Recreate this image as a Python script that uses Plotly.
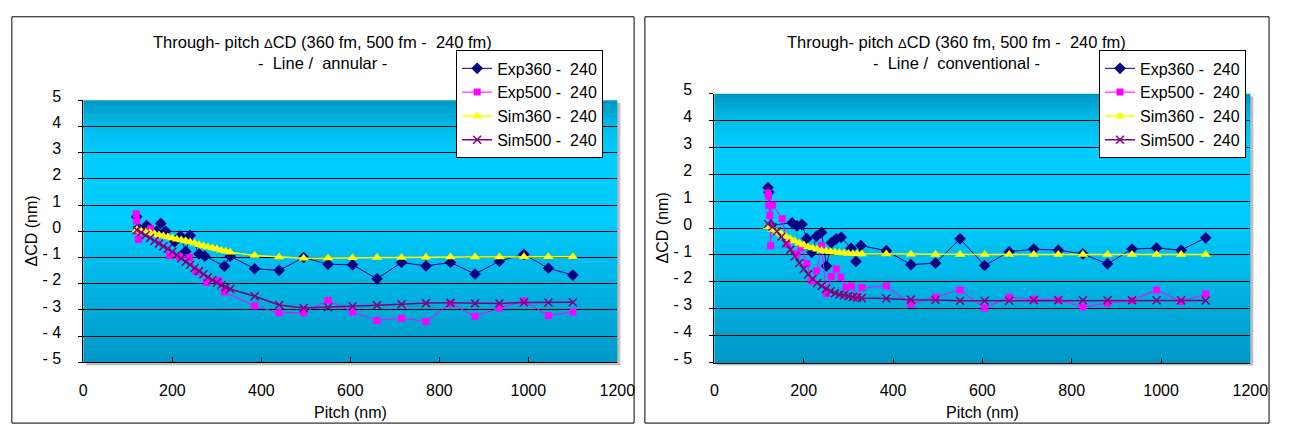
import plotly.graph_objects as go

W, H = 1290, 430

# ---------------- data ----------------
sim_pitch = [120, 130, 140, 150, 160, 170, 180, 190, 200, 210, 220, 230, 240, 250, 260, 270, 280, 290, 300, 310, 320, 330,
             385, 440, 495, 550, 605, 660, 715, 770, 825, 880, 935, 990, 1045, 1100]
exp_large_pitch = [385, 440, 495, 550, 605, 660, 715, 770, 825, 880, 935, 990, 1045, 1100]

# Line / annular
ann_exp360_pitch = [120, 124, 142, 164, 174, 185, 205, 218, 230, 240, 260, 273, 317, 330] + exp_large_pitch
ann_exp360 = [0.55, 0.12, 0.22, 0.0, 0.3, 0.0, -0.4, -0.18, -0.77, -0.16, -0.86, -0.95, -1.33, -0.95,
              -1.43, -1.49, -1.0, -1.26, -1.28, -1.81, -1.19, -1.32, -1.19, -1.63, -1.14, -0.88, -1.41, -1.67]
ann_exp500_pitch = [119, 120, 122, 124, 151, 194, 216, 238, 253, 277, 304, 317] + exp_large_pitch
ann_exp500 = [0.67, 0.4, 0.0, -0.31, 0.1, -0.92, -0.97, -1.0, -1.53, -1.95, -1.89, -2.32,
              -2.85, -3.11, -3.11, -2.63, -3.08, -3.4, -3.32, -3.44, -2.75, -3.24, -2.93, -2.66, -3.21, -3.08]
ann_sim360 = [0.05, 0.0, -0.03, -0.06, -0.1, -0.14, -0.18, -0.22, -0.26, -0.3, -0.33, -0.37, -0.41, -0.46, -0.51,
              -0.56, -0.6, -0.64, -0.68, -0.72, -0.76, -0.8,
              -0.92, -0.98, -1.03, -1.02, -1.01, -1.0, -1.0, -0.99, -0.98, -0.98, -0.98, -0.97, -0.97, -0.97]
ann_sim500 = [0.05, -0.05, -0.15, -0.26, -0.37, -0.47, -0.57, -0.67, -0.78, -0.9, -1.03, -1.16, -1.28, -1.4, -1.52,
              -1.64, -1.75, -1.86, -1.96, -2.05, -2.13, -2.2,
              -2.48, -2.81, -2.93, -2.9, -2.86, -2.82, -2.78, -2.74, -2.73, -2.75, -2.75, -2.72, -2.72, -2.71]

# Line / conventional
con_exp360_pitch = [120, 122, 126, 174, 185, 196, 207, 218, 229, 240, 251, 262, 273, 284, 306, 317, 328] + exp_large_pitch
con_exp360 = [1.51, 1.33, 0.1, 0.2, 0.08, 0.14, -0.39, -0.9, -0.3, -0.16, -1.41, -0.54, -0.4, -0.34, -0.75, -1.24, -0.65,
              -0.84, -1.36, -1.3, -0.4, -1.39, -0.88, -0.78, -0.82, -0.96, -1.33, -0.78, -0.74, -0.82, -0.36]
con_exp500_pitch = [120, 121, 122, 124, 126, 130, 152, 163, 185, 194, 207, 218, 229, 240, 251, 262, 273, 283, 295,
                    307, 318, 330] + exp_large_pitch
con_exp500 = [1.31, 1.18, 0.83, 0.47, -0.66, 0.86, 0.35, -0.6, -0.96, -0.72, -1.32, -1.97, -1.59, -0.66, -2.43, -1.8,
              -1.52, -1.83, -2.2, -2.15, -2.55, -2.21,
              -2.15, -2.83, -2.57, -2.3, -2.97, -2.57, -2.65, -2.67, -2.93, -2.79, -2.69, -2.3, -2.73, -2.45]
con_sim360 = [0.05, -0.05, -0.15, -0.22, -0.31, -0.4, -0.48, -0.56, -0.63, -0.69, -0.74, -0.79, -0.83, -0.86, -0.88,
              -0.9, -0.92, -0.93, -0.94, -0.95, -0.96, -0.96,
              -0.96, -0.97, -0.98, -0.98, -0.98, -0.98, -0.98, -0.98, -0.98, -0.98, -0.98, -0.98, -0.98, -0.98]
con_sim500 = [0.15, 0.05, -0.12, -0.32, -0.57, -0.8, -1.05, -1.3, -1.52, -1.72, -1.89, -2.04, -2.15, -2.26, -2.35,
              -2.42, -2.47, -2.5, -2.53, -2.56, -2.58, -2.6,
              -2.62, -2.66, -2.67, -2.7, -2.7, -2.7, -2.68, -2.68, -2.68, -2.68, -2.68, -2.68, -2.68, -2.69]

NB = "\u00a0"
series_names = ["Exp360 -" + NB + " 240", "Exp500 -" + NB + " 240", "Sim360 -" + NB + " 240", "Sim500 -" + NB + " 240"]
title_line1 = "Through- pitch <span style='font-size:13px'>Δ</span>CD (360 fm, 500 fm -" + NB + " 240 fm)"
title_line2 = ["-  Line /" + NB + " annular -", "-  Line /" + NB + " conventional -"]
x_ticks = [0, 200, 400, 600, 800, 1000, 1200]
y_ticks = [5, 4, 3, 2, 1, 0, -1, -2, -3, -4, -5]
y_ticklabels = ["5", "4", "3", "2", "1", "0", "- 1", "- 2", "- 3", "- 4", "- 5"]

FONT = "Liberation Sans, Arial, sans-serif"

styles = [
    dict(color="#000080", symbol="diamond", size=9, lw=1),
    dict(color="#FF00FF", symbol="square", size=7, lw=1),
    dict(color="#FFFF00", symbol="triangle-up", size=9, lw=1.5),
    dict(color="#800080", symbol="x-thin", size=8, lw=1.5),
]

panels = [
    dict(data=[(ann_exp360_pitch, ann_exp360), (ann_exp500_pitch, ann_exp500), (sim_pitch, ann_sim360), (sim_pitch, ann_sim500)],
         px=(80.7, 624), py=(91.8, 364.8), frame=(8, 641), legend="legend"),
    dict(data=[(con_exp360_pitch, con_exp360), (con_exp500_pitch, con_exp500), (sim_pitch, con_sim360), (sim_pitch, con_sim500)],
         px=(722.7, 1268), py=(85, 365), frame=(652, 1287), legend="legend2"),
]

fig = go.Figure()
shapes = []
annotations = []

def lerp(c1, c2, t):
    return tuple(round(a + (b - a) * t) for a, b in zip(c1, c2))

grad_stops = [(0.0, (0, 150, 196)), (0.1, (0, 188, 234)), (0.2, (0, 204, 255)), (0.45, (0, 204, 255)), (1.0, (0, 152, 198))]

def grad_color(t):
    for (t1, c1), (t2, c2) in zip(grad_stops[:-1], grad_stops[1:]):
        if t1 <= t <= t2:
            return "rgb(%d,%d,%d)" % lerp(c1, c2, (t - t1) / (t2 - t1))
    return "rgb(%d,%d,%d)" % grad_stops[-1][1]

for i, p in enumerate(panels):
    sfx = "" if i == 0 else str(i + 1)
    xa, ya = "x" + sfx, "y" + sfx
    for (xs, ys), name, st in zip(p["data"], series_names, styles):
        fig.add_trace(go.Scatter(
            x=xs, y=ys, name=name, mode="lines+markers", xaxis=xa, yaxis=ya, legend=p["legend"],
            line=dict(color=st["color"], width=st["lw"]),
            marker=dict(symbol=st["symbol"], size=st["size"], color=st["color"],
                        line=dict(color=st["color"], width=1.5 if st["symbol"] == "x-thin" else 0)),
        ))
    x0, x1 = p["px"]
    y0, y1 = p["py"]
    dom_x = [x0 / W, x1 / W]
    dom_y = [1 - y1 / H, 1 - y0 / H]
    axis_common = dict(showline=True, linecolor="black", linewidth=1, zeroline=False, mirror=False,
                       tickfont=dict(family=FONT, size=16, color="black"))
    fig.update_layout(**{
        "xaxis" + sfx: dict(domain=dom_x, range=[0, 1200], tickvals=x_ticks, ticktext=[str(v) for v in x_ticks],
                            showgrid=False, ticks="inside", ticklen=5, tickcolor="black",
                            ticklabelstandoff=13, anchor=ya, **axis_common),
        "yaxis" + sfx: dict(domain=dom_y, range=[-5, 5], tickvals=y_ticks, ticktext=y_ticklabels,
                            showgrid=True, gridcolor="black", gridwidth=1, ticks="outside", ticklen=4,
                            tickcolor="black", ticklabelstandoff=14, ticklabelshift=-4, anchor=xa, **axis_common),
    })
    # shadow behind plot area
    shapes.append(dict(type="rect", xref="paper", yref="paper", x0=(x0 + 3) / W, x1=(x1 + 3) / W,
                       y0=1 - (y1 + 3) / H, y1=1 - (y0 + 3) / H, fillcolor="#BFBFBF", line=dict(width=0), layer="below"))
    # gradient background
    N = 60
    for k in range(N):
        t = (k + 0.5) / N
        shapes.append(dict(type="rect", xref=xa + " domain", yref=ya + " domain", x0=0, x1=1,
                           y0=1 - (k + 1) / N - 0.002, y1=1 - k / N,
                           fillcolor=grad_color(t), line=dict(width=0), layer="below"))
    # chart frame
    f0, f1 = p["frame"]
    shapes.append(dict(type="rect", xref="paper", yref="paper", x0=f0 / W, x1=f1 / W, y0=1 - 428 / H, y1=1 - 5 / H,
                       line=dict(color="black", width=1), fillcolor="rgba(0,0,0,0)", layer="below"))
    cx = (f0 + f1) / 2
    # titles
    annotations.append(dict(text=title_line1, x=cx / W, y=1 - 31 / H, xref="paper", yref="paper",
                            xanchor="center", yanchor="middle", showarrow=False,
                            font=dict(family=FONT, size=16.5, color="black")))
    annotations.append(dict(text=title_line2[i], x=cx / W, y=1 - 53 / H, xref="paper", yref="paper",
                            xanchor="center", yanchor="middle", showarrow=False,
                            font=dict(family=FONT, size=16.5, color="black")))
    annotations.append(dict(text="ΔCD (nm)", x=(x0 - 53) / W, y=1 - ((y0 + y1) / 2) / H, xref="paper", yref="paper",
                            xanchor="center", yanchor="middle", textangle=-90, showarrow=False,
                            font=dict(family=FONT, size=16, color="black")))
    annotations.append(dict(text="Pitch (nm)", x=((x0 + x1) / 2) / W, y=1 - 417 / H, xref="paper", yref="paper",
                            xanchor="center", yanchor="middle", showarrow=False,
                            font=dict(family=FONT, size=16, color="black")))

legend_common = dict(bgcolor="white", bordercolor="black", borderwidth=1, xanchor="left", yanchor="top",
                     font=dict(family=FONT, size=16, color="black"), tracegroupgap=0, itemwidth=30)
fig.update_layout(
    width=W, height=H, margin=dict(l=0, r=0, t=0, b=0),
    paper_bgcolor="white", plot_bgcolor="rgba(0,0,0,0)",
    showlegend=True,
    legend=dict(x=460 / W, y=1 - 40 / H, **legend_common),
    legend2=dict(x=1114 / W, y=1 - 40 / H, **legend_common),
    shapes=shapes, annotations=annotations,
    font=dict(family=FONT, color="black"),
)

fig.write_html("out.html")
